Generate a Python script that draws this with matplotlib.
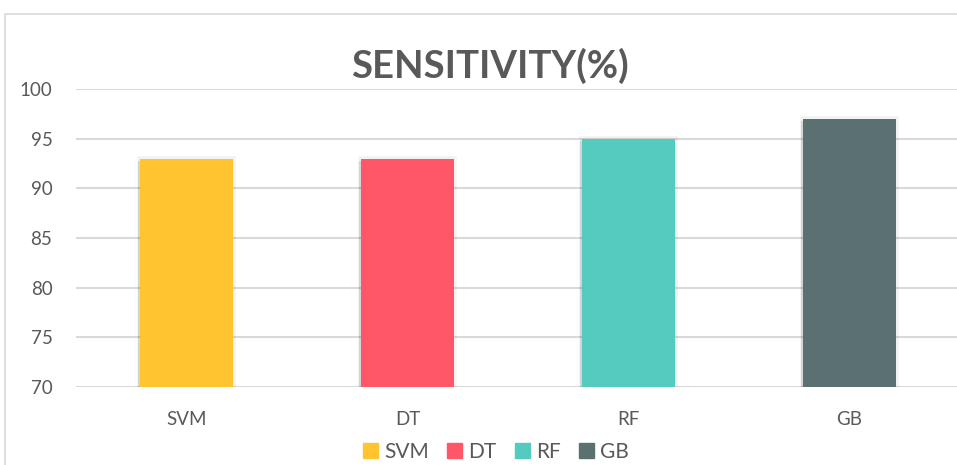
import matplotlib.pyplot as plt
import matplotlib.patheffects as pe
from matplotlib.patches import Rectangle

# sensitivity of each classifier, in percent
models = ["SVM", "DT", "RF", "GB"]
sensitivity = [93, 93, 95, 97]
colors = ["#FFC42F", "#FF5668", "#55CBBF", "#5B7071"]
yticks = [70, 75, 80, 85, 90, 95, 100]

plt.rcParams['font.family'] = ['Lato', 'DejaVu Sans']
grey = "#595959"

fig = plt.figure(figsize=(9.57, 4.65), dpi=100)

# chart frame, runs off the right and bottom edges
fig.patches.append(Rectangle((5 / 957, -0.1), 1.2, 1 - 14 / 465 + 0.1,
                             transform=fig.transFigure, fill=False,
                             edgecolor="#d9d9d9", linewidth=1.2))

ax = fig.add_axes([76 / 957, 1 - 387 / 465, 884 / 957, 298 / 465])

# soft shadow round each bar
glow = [pe.SimplePatchShadow(offset=(-1.5, -1.5), shadow_rgbFace="black", alpha=0.12),
        pe.withStroke(linewidth=4, foreground="black", alpha=0.05),
        pe.Normal()]
bars = ax.bar(models, sensitivity, width=0.42, color=colors, zorder=3)
for b in bars:
    b.set_path_effects(glow)

ax.set_ylim(70, 100)
ax.set_xlim(-0.5, 3.5)
ax.set_yticks(yticks)
ax.yaxis.grid(True, color="#d9d9d9", linewidth=1.5, zorder=0)
ax.set_axisbelow(True)
for s in ax.spines.values():
    s.set_visible(False)
ax.tick_params(axis="y", length=0, pad=17, labelsize=13.5, labelcolor=grey)
ax.tick_params(axis="x", length=0, pad=17, labelsize=13.5, labelcolor=grey)

fig.text(0.512, 1 - 66 / 465, "SENSITIVITY(%)", ha="center", va="center",
         fontsize=27.5, fontweight="bold", color=grey)

handles = [Rectangle((0, 0), 1, 1, color=c) for c in colors]
fig.legend(handles, models, loc="center", bbox_to_anchor=(496 / 957, 1 - 452 / 465),
           ncol=4, frameon=False, fontsize=15, labelcolor=grey,
           handlelength=0.7, handleheight=0.7, handletextpad=0.3,
           columnspacing=0.9)

fig.savefig("out.png", dpi=100)
